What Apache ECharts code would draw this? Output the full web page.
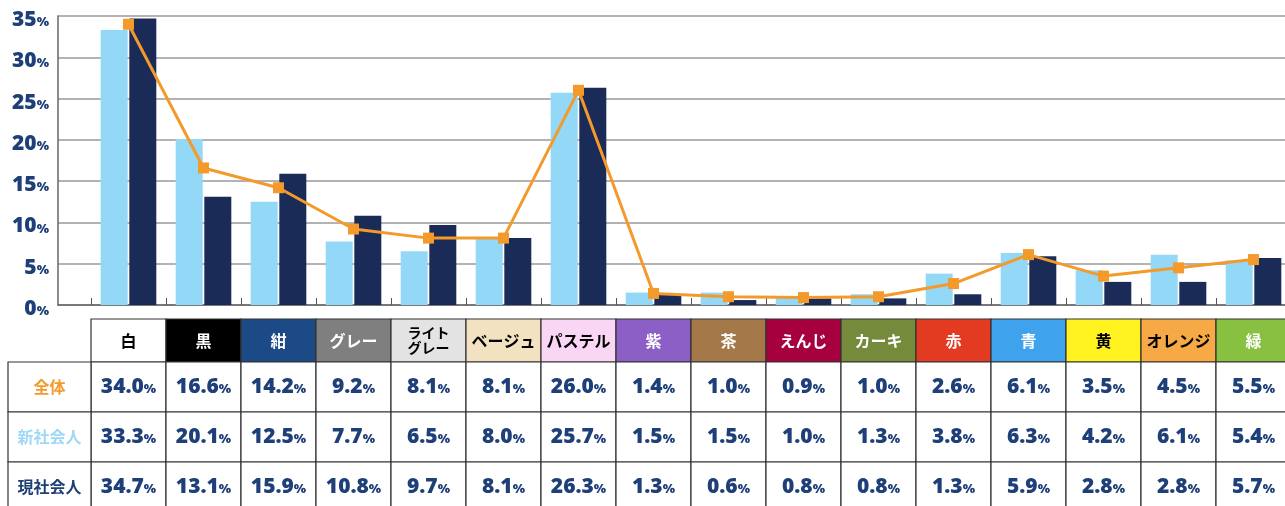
<!DOCTYPE html>
<html>
<head>
<meta charset="utf-8">
<script src="https://cdn.jsdelivr.net/npm/echarts@6/dist/echarts.min.js"></script>
<style>
  html, body { margin: 0; padding: 0; background: #fff; overflow: hidden; }
  #chart { width: 1300px; height: 506px; }
</style>
</head>
<body>
<div id="chart"></div>
<script>
const categories = ['白', '黒', '紺', 'グレー', 'ライト\nグレー', 'ベージュ', 'パステル', '紫', '茶', 'えんじ', 'カーキ', '赤', '青', '黄', 'オレンジ', '緑'];
const headerBg = ['#ffffff', '#000000', '#1c4a86', '#7f7f7f', '#e3e3e3', '#f2e2c2', '#fad6f5', '#8b5fc6', '#a57849', '#a6003e', '#758a3a', '#e33a22', '#3fa2ec', '#fff21f', '#f6a945', '#88c142'];
const headerFg = ['#000', '#fff', '#fff', '#fff', '#000', '#000', '#000', '#fff', '#fff', '#fff', '#fff', '#fff', '#fff', '#000', '#000', '#fff'];

const zentai = [34.0, 16.6, 14.2, 9.2, 8.1, 8.1, 26.0, 1.4, 1.0, 0.9, 1.0, 2.6, 6.1, 3.5, 4.5, 5.5];
const shin = [33.3, 20.1, 12.5, 7.7, 6.5, 8.0, 25.7, 1.5, 1.5, 1.0, 1.3, 3.8, 6.3, 4.2, 6.1, 5.4];
const gen = [34.7, 13.1, 15.9, 10.8, 9.7, 8.1, 26.3, 1.3, 0.6, 0.8, 0.8, 1.3, 5.9, 2.8, 2.8, 5.7];

const rowNames = ['全体', '新社会人', '現社会人'];
const rowColors = ['#f39a2b', '#9fd8f5', '#1e3f75'];
const rows = [zentai, shin, gen];

const navy = '#1e3f78';
const font = '"Noto Sans CJK JP", "Noto Sans", sans-serif';
const numFont = '"Open Sans", "Noto Sans", sans-serif';

const chart = echarts.init(document.getElementById('chart'));

chart.setOption({
  animation: false,
  textStyle: { fontFamily: font },
  grid: [
    { left: 58, top: 16, height: 289, right: 0 },
    { left: 91, top: 16, height: 289, width: 1200 }
  ],
  xAxis: [
    {
      gridIndex: 0, type: 'value', min: 0, max: 1,
      axisLine: { show: true, lineStyle: { color: '#666', width: 1.5 } },
      axisTick: { show: false }, axisLabel: { show: false }, splitLine: { show: false }
    },
    {
      gridIndex: 1, type: 'category', data: categories,
      axisLine: { show: false },
      axisTick: { show: true, inside: true, length: 7, lineStyle: { color: '#555' } },
      axisLabel: { show: false }
    }
  ],
  yAxis: [
    {
      gridIndex: 0, type: 'value', min: 0, max: 35, interval: 5,
      axisLine: { show: true, lineStyle: { color: '#666', width: 1.5 } },
      axisTick: { show: false },
      splitLine: { lineStyle: { color: '#9a9a9a', width: 1.5 } },
      axisLabel: {
        margin: 9,
        padding: [8, 0, 0, 0],
        formatter: v => '{n|' + v + '}{p|%}',
        rich: {
          n: { fontSize: 21, fontWeight: 800, color: navy, fontFamily: numFont },
          p: { fontSize: 13, fontWeight: 800, color: navy, fontFamily: numFont, padding: [5, 0, 0, 0] }
        }
      }
    },
    { gridIndex: 1, type: 'value', min: 0, max: 35, show: false }
  ],
  series: [
    {
      name: '新社会人', type: 'bar', xAxisIndex: 1, yAxisIndex: 1,
      data: shin, barWidth: 27, barGap: '6%',
      itemStyle: { color: '#93d8f7' }
    },
    {
      name: '現社会人', type: 'bar', xAxisIndex: 1, yAxisIndex: 1,
      data: gen, barWidth: 27,
      itemStyle: { color: '#1b2b58' }
    },
    {
      name: '全体', type: 'line', xAxisIndex: 1, yAxisIndex: 1,
      data: zentai, symbol: 'rect', symbolSize: 11,
      lineStyle: { color: '#f39a2b', width: 3 },
      itemStyle: { color: '#f39a2b' }
    }
  ]
});

// table under the chart, columns aligned with category axis
const headTop = 319, headH = 43, rowH = 50, colW = 75;
const border = { stroke: '#333', lineWidth: 1.2 };
const els = [];

categories.forEach((c, i) => {
  const cx = chart.convertToPixel({ xAxisIndex: 1 }, i);
  const x = cx - colW / 2;
  els.push({
    type: 'rect', shape: { x: x, y: headTop, width: colW, height: headH },
    style: Object.assign({ fill: headerBg[i] }, border)
  });
  const twoLine = c.indexOf('\n') >= 0;
  els.push({
    type: 'text', x: cx, y: headTop + headH / 2,
    style: {
      text: c, fill: headerFg[i], align: 'center', verticalAlign: 'middle',
      font: 'bold ' + (twoLine ? 14 : 16) + 'px ' + font, lineHeight: 15
    }
  });
  rows.forEach((r, k) => {
    const y = headTop + headH + k * rowH;
    els.push({
      type: 'rect', shape: { x: x, y: y, width: colW, height: rowH },
      style: Object.assign({ fill: '#fff' }, border)
    });
    els.push({
      type: 'text', x: cx, y: y + rowH / 2,
      style: {
        text: '{n|' + r[i].toFixed(1) + '}{p|%}',
        align: 'center', verticalAlign: 'middle',
        rich: {
          n: { fontSize: 21, fontWeight: 800, fill: navy, fontFamily: numFont },
          p: { fontSize: 13, fontWeight: 800, fill: navy, fontFamily: numFont, padding: [5, 0, 0, 0] }
        }
      }
    });
  });
});

rowNames.forEach((n, k) => {
  const y = headTop + headH + k * rowH;
  const x0 = 8;
  const x1 = chart.convertToPixel({ xAxisIndex: 1 }, 0) - colW / 2;
  els.push({
    type: 'rect', shape: { x: x0, y: y, width: x1 - x0, height: rowH },
    style: Object.assign({ fill: '#fff' }, border)
  });
  els.push({
    type: 'text', x: (x0 + x1) / 2, y: y + rowH / 2,
    style: {
      text: n, fill: rowColors[k], align: 'center', verticalAlign: 'middle',
      font: 'bold 16px ' + font
    }
  });
});

chart.setOption({ graphic: { elements: els } });
</script>
</body>
</html>
